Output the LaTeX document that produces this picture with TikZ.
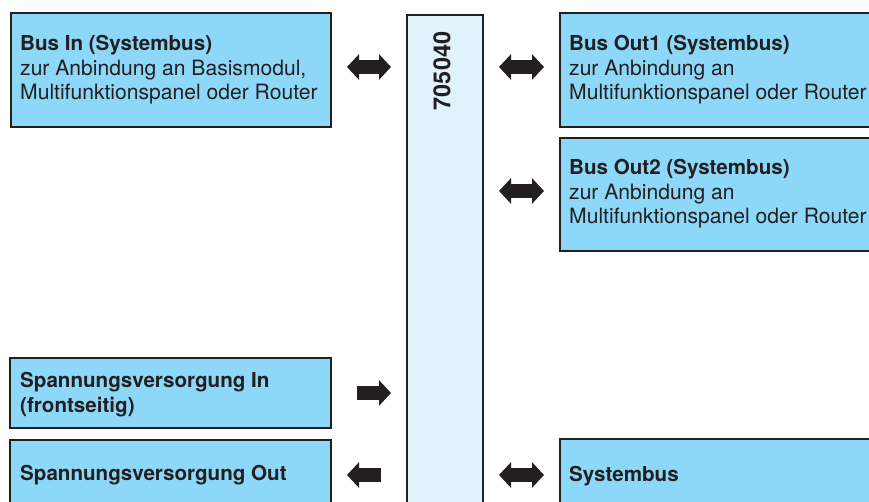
\documentclass[tikz,border=0pt]{standalone}
\usepackage{fontspec}
\setmainfont{TeX Gyre Heros}
\usetikzlibrary{arrows.meta}
\definecolor{ink}{HTML}{231F20}
\definecolor{boxblue}{HTML}{8DD8F8}
\definecolor{barblue}{HTML}{E0F2FC}
\newcommand{\hdline}[1]{{\fontsize{20.6}{24.5}\selectfont\bfseries #1}}
\begin{document}
\begin{tikzpicture}[x=1pt,y=-1pt,
  box/.style={draw=ink, line width=2pt, fill=boxblue, anchor=north west, inner sep=0pt},
  bar/.style={draw=ink, line width=2pt, fill=barblue, anchor=north west, inner sep=0pt},
  lbl/.style={anchor=base west, align=left, inner sep=0pt, text=ink, font=\fontsize{21.1}{24.5}\selectfont},
  dbl/.style={draw=ink, line width=14pt, {Triangle[length=12pt,width=25pt]}-{Triangle[length=12pt,width=25pt]}},
  sgl/.style={draw=ink, line width=14pt, -{Triangle[length=12pt,width=25pt]}}]
\clip (0,0) rectangle (869,502);
\fill[white] (0,0) rectangle (869,502);
% boxes
\node[box, minimum width=320pt, minimum height=114pt] (busin) at (10,12) {};
\node[box, minimum width=330pt, minimum height=114pt] (out1) at (559,12) {};
\node[box, minimum width=330pt, minimum height=113pt] (out2) at (559,137) {};
\node[box, minimum width=321pt, minimum height=70pt] (spin) at (9,357) {};
\node[box, minimum width=321pt, minimum height=80pt] (spout) at (9,439) {};
\node[box, minimum width=330pt, minimum height=80pt] (sys) at (559,438) {};
\node[bar, minimum width=76pt, minimum height=500pt] (bar) at (406,14) {};
% labels (anchored at the baseline of their last line)
\node[lbl] (tbusin) at (20,100) {\hdline{Bus In (Systembus)}\\zur Anbindung an Basismodul,\\Multifunktionspanel oder Router};
\node[lbl] (tout1) at (569,100) {\hdline{Bus Out1 (Systembus)}\\zur Anbindung an\\Multifunktionspanel oder Router};
\node[lbl] (tout2) at (569,224) {\hdline{Bus Out2 (Systembus)}\\zur Anbindung an\\Multifunktionspanel oder Router};
\node[lbl] (tspin) at (20,412) {\hdline{Spannungsversorgung In}\\\hdline{(frontseitig)}};
\node[lbl] (tspout) at (20,480) {\hdline{Spannungsversorgung Out}};
\node[lbl] (tsys) at (569,481) {\hdline{Systembus}};
\node[rotate=90, inner sep=0pt, text=ink, font=\fontsize{23.5}{23.5}\selectfont\bfseries] (num) at (442,71) {705040};
% arrow end points
\coordinate (a1l) at (347,67);  \coordinate (a1r) at (391,67);
\coordinate (a2l) at (499,67);  \coordinate (a2r) at (544,67);
\coordinate (a3l) at (499,191); \coordinate (a3r) at (544,191);
\coordinate (a4l) at (357,393); \coordinate (a4r) at (391,393);
\coordinate (a5l) at (347,475); \coordinate (a5r) at (381,475);
\coordinate (a6l) at (499,475); \coordinate (a6r) at (544,475);
\draw[dbl] (a1l) -- (a1r);
\draw[dbl] (a2l) -- (a2r);
\draw[dbl] (a3l) -- (a3r);
\draw[sgl] (a4l) -- (a4r);
\draw[sgl] (a5r) -- (a5l);
\draw[dbl] (a6l) -- (a6r);
\end{tikzpicture}
\end{document}
